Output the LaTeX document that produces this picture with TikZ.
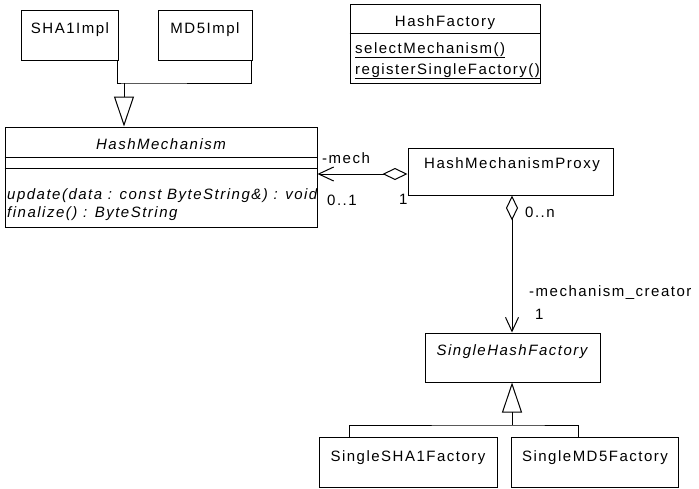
\documentclass[tikz,border=0pt]{standalone}
\usepackage{fontspec}
\setmainfont{Liberation Sans}[LetterSpace=10]
\usetikzlibrary{arrows.meta,calc}

\tikzset{
  cls/.style={draw, line width=1pt, inner sep=0pt},
  lbl/.style={inner sep=0pt, anchor=base, font=\fontsize{15}{18}\selectfont},
  lbll/.style={lbl, anchor=base west},
  conn/.style={line width=1pt},
  inherit/.style={conn, -{Triangle[open, length=30pt, width=20pt, line width=1pt]}},
  aggr/.style={conn, {Diamond[open, length=25pt, width=12pt, line width=1pt]}-{Straight Barb[length=15pt, width=14pt, line width=1pt]}},
}

% rectangle from (x1,y1) to (x2,y2), y growing downwards
\newcommand\umlrect[5]{%
  \node[cls, minimum width={#4-#2}, minimum height={#5-#3}] (#1) at ({(#2+#4)/2},{(#3+#5)/2}) {};}

\begin{document}
\begin{tikzpicture}[x=1pt, y=-1pt]
\fill[white] (0,0) rectangle (699,488);
\useasboundingbox (0,0) rectangle (699,488);

% implementation classes
\umlrect{sha}{21}{10}{118}{60}
\node[lbl] (shaT) at (70,33) {SHA1Impl};
\umlrect{md5}{158}{10}{252}{60}
\node[lbl] (md5T) at (205,33) {MD5Impl};

% HashMechanism
\umlrect{hm}{5}{127}{317}{227}
\draw[conn] (hm.west |- 0,157) -- (hm.east |- 0,157);
\draw[conn] (hm.west |- 0,168) -- (hm.east |- 0,168);
\node[lbl] (hmT) at (161,149) {\itshape HashMechanism};
\node[lbll] (hmOp1) at (7,199) {\itshape update(data : const ByteString\&) : void};
\node[lbll] (hmOp2) at (7,217) {\itshape finalize() : ByteString};

% HashFactory
\umlrect{hf}{350}{4}{540}{83}
\draw[conn] (hf.west |- 0,33) -- (hf.east |- 0,33);
\node[lbl] (hfT) at (445,26) {HashFactory};
\node[lbll] (hfOp1) at (355,53) {\underline{selectMechanism()}};
\node[lbll] (hfOp2) at (355,74) {\underline{registerSingleFactory()}};

% HashMechanismProxy
\umlrect{px}{408}{148}{613}{195}
\node[lbl] (pxT) at (512,168) {HashMechanismProxy};

% SingleHashFactory and its subclasses
\umlrect{shf}{425}{333}{600}{382}
\node[lbl] (shfT) at (512,355) {\itshape SingleHashFactory};
\umlrect{s1}{319}{437}{497}{487}
\node[lbl] (s1T) at (408,461) {SingleSHA1Factory};
\umlrect{s5}{511}{437}{678}{487}
\node[lbl] (s5T) at (595,461) {SingleMD5Factory};

% generalization: SHA1Impl, MD5Impl -> HashMechanism
\coordinate (gbar) at (124,83);
\draw[conn] ($(sha.south east)+(-1,0)$) |- (gbar) -| ($(md5.south east)+(-1,0)$);
\draw[inherit] (gbar) -- (hm.north -| gbar);

% aggregation: HashMechanismProxy -> HashMechanism
\draw[aggr] (px.west |- 0,174) -- (hm.east |- 0,174);
\node[lbll] (mechR) at (322,163) {-mech};
\node[lbll] (mechM) at (327,205) {0..1};
\node[lbll] (mechO) at (399,204) {1};

% aggregation: HashMechanismProxy -> SingleHashFactory
\draw[conn, {Diamond[open, length=25pt, width=12pt, line width=1pt]}-{Straight Barb[length=14pt, width=13pt, line width=1pt]}] (px.south -| 512,0) -- (shf.north -| 512,0);
\node[lbll] (crM0) at (525,217) {0..n};
\node[lbll] (crR) at (529,296) {-mechanism\_creator};
\node[lbll] (crM1) at (535,319) {1};

% generalization: concrete factories -> SingleHashFactory
\coordinate (fbar) at (512,425);
\draw[conn] (s1.north -| 349,0) |- (fbar) -| (s5.north -| 578,0);
\draw[inherit] (fbar) -- (shf.south -| fbar);
\end{tikzpicture}
\end{document}
